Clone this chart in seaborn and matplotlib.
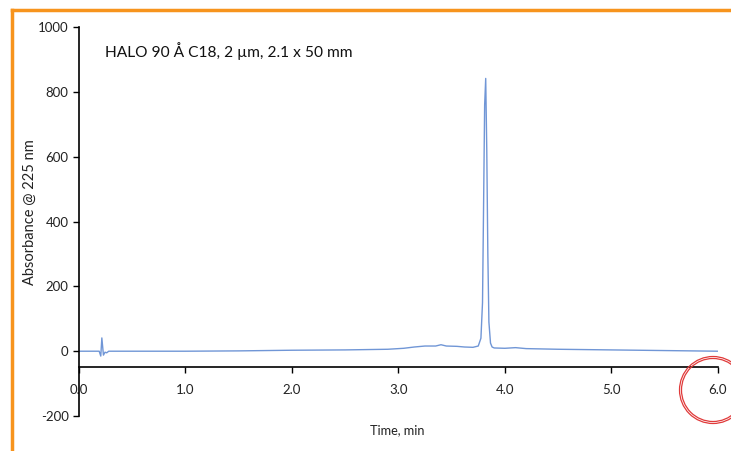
import matplotlib
matplotlib.use("Agg")
import matplotlib.pyplot as plt
import pandas as pd
import seaborn as sns
from matplotlib.lines import Line2D
from matplotlib.patches import Ellipse

time_min = [0.00, 0.10, 0.19, 0.205, 0.215, 0.23, 0.245, 0.26, 0.28, 0.35,
            0.50, 1.00, 1.50, 2.00, 2.50, 2.90, 3.05, 3.15, 3.25, 3.35,
            3.40, 3.45, 3.55, 3.62, 3.70, 3.75, 3.775, 3.79, 3.80, 3.81, 3.82,
            3.83, 3.84, 3.85, 3.865, 3.88, 3.90, 4.00, 4.10, 4.20, 4.50, 5.00,
            5.50, 6.00]
absorbance = [0, 0, 0, -15, 41, -12, -3, -5, 0, 0,
              0, 0, 1, 3, 4, 6, 9, 13, 16, 16,
              20, 16, 15, 13, 12, 16, 40, 150, 450, 760, 842,
              620, 300, 90, 25, 13, 10, 9, 11, 8, 6, 4,
              2, 0]

x_ticks = [0.0, 1.0, 2.0, 3.0, 4.0, 5.0, 6.0]
y_ticks = [-200, 0, 200, 400, 600, 800, 1000]

title_txt = "HALO 90 Å C18, 2 µm, 2.1 x 50 mm"
xlabel_txt = "Time, min"
ylabel_txt = "Absorbance @ 225 nm"

df = pd.DataFrame({"time": time_min, "abs": absorbance})

sns.set_style("ticks")
plt.rcParams["font.family"] = ["Lato", "DejaVu Sans"]
plt.rcParams["axes.unicode_minus"] = False

fig = plt.figure(figsize=(7.31, 4.51), dpi=100)
fig.patch.set_facecolor("white")
ax = fig.add_axes([0.108, 0.0776, 0.874, 0.862])

sns.lineplot(data=df, x="time", y="abs", ax=ax, color="#7096d6", linewidth=1.0)

ax.set_xlim(0, 6)
ax.set_ylim(-200, 1000)
ax.set_xticks(x_ticks)
ax.set_xticklabels([f"{t:.1f}" for t in x_ticks])
ax.set_yticks(y_ticks)
ax.set_xlabel("")
ax.set_ylabel("")

# eixo x cruza em -50
ax.spines["bottom"].set_position(("data", -50))
ax.spines["top"].set_visible(False)
ax.spines["right"].set_visible(False)
for s in ("bottom", "left"):
    ax.spines[s].set_color("black")
    ax.spines[s].set_linewidth(1.2)
ax.tick_params(axis="both", direction="out", length=4, width=1, colors="black",
               labelsize=9.5, labelcolor="#222222")
ax.tick_params(axis="x", pad=8)

ax.text(0.041, 0.94, title_txt, transform=ax.transAxes, fontsize=11.2,
        va="center", ha="left", color="#111111")

fig.text(397 / 731, 1 - 430 / 451, xlabel_txt, ha="center", va="center",
         fontsize=9.2, color="#222222")
fig.text(30 / 731, 1 - 212 / 451, ylabel_txt, ha="center", va="center",
         rotation=90, fontsize=10.5, color="#222222")

# circulo vermelho no 6.0
for r in (33.5, 31.5):
    ring = Ellipse((713 / 731, 1 - 390 / 451), width=2 * r / 731, height=2 * r / 451,
                   transform=fig.transFigure, fill=False, edgecolor="#e03a3a",
                   linewidth=0.9, clip_on=False)
    fig.add_artist(ring)

# moldura laranja
orange = "#f7941d"
fig.add_artist(Line2D([11.5 / 731, 11.5 / 731], [0, 1 - 10 / 451],
                      transform=fig.transFigure, color=orange, linewidth=2.5,
                      solid_capstyle="projecting"))
fig.add_artist(Line2D([11.5 / 731, 1], [1 - 10 / 451, 1 - 10 / 451],
                      transform=fig.transFigure, color=orange, linewidth=2.5,
                      solid_capstyle="projecting"))

fig.savefig("out.png", dpi=100, facecolor="white")
